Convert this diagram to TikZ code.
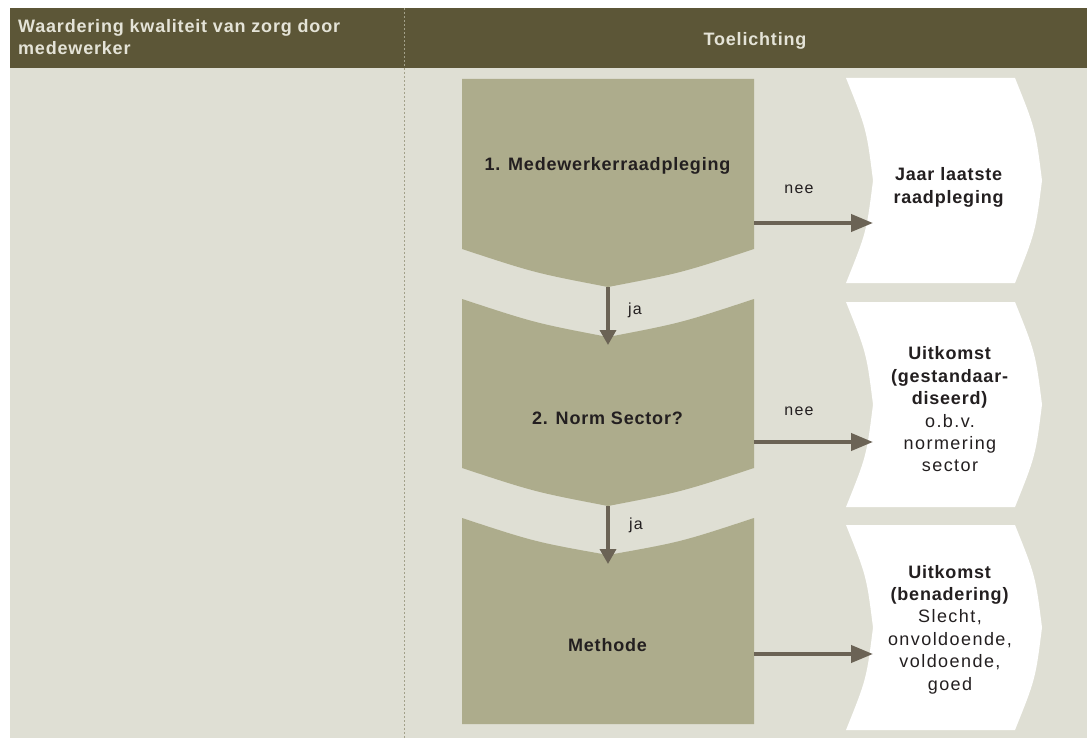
\documentclass[tikz,border=0pt]{standalone}
\usepackage{fontspec}
\setmainfont{Liberation Sans}[LetterSpace=8,BoldFeatures={LetterSpace=4.5}]
\usetikzlibrary{arrows.meta}
\definecolor{hdr}{HTML}{5C5637}
\definecolor{bgc}{HTML}{DFDFD4}
\definecolor{blk}{HTML}{ADAC8C}
\definecolor{arr}{HTML}{6B6355}
\definecolor{hdrtxt}{HTML}{E4E3D7}
\definecolor{txt}{HTML}{231F20}
\definecolor{divc}{HTML}{A3A18A}
\begin{document}
\begin{tikzpicture}[x=1pt,y=-1pt,
  hdrtext/.style={text=hdrtxt,font=\fontsize{18}{22}\selectfont\bfseries,inner sep=0},
  blocktext/.style={text=txt,font=\fontsize{18}{22.5}\selectfont\bfseries,inner sep=0},
  outtext/.style={text=txt,font=\fontsize{18}{22.4}\selectfont,align=center,inner sep=0},
  lbl/.style={text=txt,font=\fontsize{16}{19}\selectfont,inner sep=0},
  flowarrow/.style={draw=arr,line width=4pt,-{Triangle[length=22pt,width=17pt]}},
  downarrow/.style={draw=arr,line width=3.5pt,-{Triangle[length=15pt,width=16pt]}},
  outbox/.style={fill=white},
  blockfill/.style={fill=blk},
  divider/.style={draw=divc,line width=1pt,dash pattern=on 2pt off 2pt}]
\useasboundingbox (0,0) rectangle (1087,738);
% background and header
\fill[bgc] (10,8) rectangle (1087,738);
\fill[hdr] (10,8) rectangle (1087,68);
\draw[divider] (404,8) -- (404,738);
\node[hdrtext,anchor=base west,align=left] (h1) at (18,55) {Waardering kwaliteit van zorg door\\medewerker};
\node[hdrtext,anchor=base] (h2) at (755,46) {Toelichting};
% olive blocks
\path[blockfill] (462,79) -- (754,79) -- (754,249) .. controls (681,273) .. (608,287) .. controls (535,273) .. (462,249) -- cycle;
\path[blockfill] (462,299) .. controls (535,323) .. (608,337) .. controls (681,323) .. (754,299) -- (754,468) .. controls (681,492) .. (608,506) .. controls (535,492) .. (462,468) -- cycle;
\path[blockfill] (462,518) .. controls (535,542) .. (608,555) .. controls (681,542) .. (754,518) -- (754,724) -- (462,724) -- cycle;
% white chevrons
\path[outbox] (846,78) .. controls (866.5,129) .. (873,180.5) .. controls (866.5,232) .. (846,283) -- (1015,283) .. controls (1035.5,232) .. (1042,180.5) .. controls (1035.5,129) .. (1015,78) -- cycle;
\path[outbox] (846,302) .. controls (866.5,353) .. (873,404.5) .. controls (866.5,456) .. (846,507) -- (1015,507) .. controls (1035.5,456) .. (1042,404.5) .. controls (1035.5,353) .. (1015,302) -- cycle;
\path[outbox] (846,525) .. controls (866.5,576) .. (873,627.5) .. controls (866.5,679) .. (846,730) -- (1015,730) .. controls (1035.5,679) .. (1042,627.5) .. controls (1035.5,576) .. (1015,525) -- cycle;
% block texts
\node[blocktext,anchor=base] (b1) at (607.5,170.7) {1. Medewerkerraadpleging};
\node[blocktext,anchor=base] (b2) at (607.5,424.5) {2. Norm Sector?};
\node[blocktext,anchor=base] (b3) at (607.5,651) {Methode};
% outcome texts
\node[outtext] (o1) at (949,187.5) {\textbf{Jaar laatste}\\\textbf{raadpleging}};
\node[outtext] (o2) at (950,409.5) {\textbf{Uitkomst}\\\textbf{(gestandaar-}\\\textbf{diseerd)}\\o.b.v.\\normering\\sector};
\node[outtext] (o3) at (950,629.5) {\textbf{Uitkomst}\\\textbf{(benadering)}\\Slecht,\\onvoldoende,\\voldoende,\\goed};
% labels
\node[lbl,anchor=base] (n1) at (799,194) {nee};
\node[lbl,anchor=base] (n2) at (799,415) {nee};
\node[lbl,anchor=base] (j1) at (635,314) {ja};
\node[lbl,anchor=base] (j2) at (636,529) {ja};
% connector endpoints
\coordinate (d1s) at (608,287);
\coordinate (d1e) at (608,345);
\coordinate (d2s) at (608,506);
\coordinate (d2e) at (608,564);
\coordinate (r1s) at (754,223);
\coordinate (r1e) at (873,223);
\coordinate (r2s) at (754,442);
\coordinate (r2e) at (873,442);
\coordinate (r3s) at (754,654);
\coordinate (r3e) at (873,654);
\draw[downarrow] (d1s) -- (d1e);
\draw[downarrow] (d2s) -- (d2e);
\draw[flowarrow] (r1s) -- (r1e);
\draw[flowarrow] (r2s) -- (r2e);
\draw[flowarrow] (r3s) -- (r3e);
\end{tikzpicture}
\end{document}
